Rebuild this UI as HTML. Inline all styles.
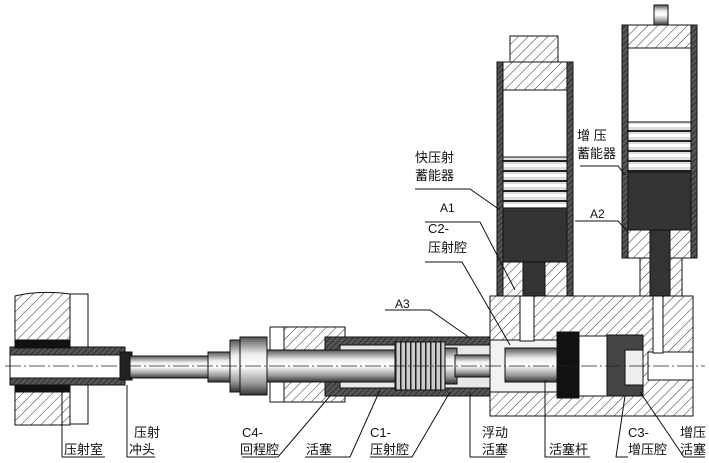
<!DOCTYPE html>
<html><head><meta charset="utf-8"><style>
html,body{margin:0;padding:0;background:#fff}
svg{display:block}
text{font-family:"Liberation Sans","Noto Sans CJK SC",sans-serif;font-size:13px;fill:#111}
</style></head><body>
<svg width="709" height="463" viewBox="0 0 709 463" xmlns="http://www.w3.org/2000/svg">
<defs>
<pattern id="h" width="7" height="7" patternUnits="userSpaceOnUse" patternTransform="rotate(45)">
<rect width="7" height="7" fill="#fff"/><line x1="0" y1="0" x2="0" y2="7" stroke="#333" stroke-width="1"/></pattern>
<pattern id="hd" width="4" height="4" patternUnits="userSpaceOnUse" patternTransform="rotate(45)">
<rect width="4" height="4" fill="#555"/><line x1="0" y1="0" x2="0" y2="4" stroke="#222" stroke-width="1.5"/></pattern>
<linearGradient id="rod" x1="0" y1="0" x2="0" y2="1">
<stop offset="0" stop-color="#555"/><stop offset="0.3" stop-color="#eee"/><stop offset="0.5" stop-color="#fff"/><stop offset="0.8" stop-color="#999"/><stop offset="1" stop-color="#333"/></linearGradient>
<pattern id="rg" width="10" height="10" patternUnits="userSpaceOnUse">
<rect width="10" height="10" fill="#ddd"/><rect y="0" width="10" height="2" fill="#222"/><rect y="4" width="10" height="3" fill="#fff"/></pattern>
<pattern id="rv" width="5" height="10" patternUnits="userSpaceOnUse">
<rect width="5" height="10" fill="#ccc"/><rect width="1.5" height="10" fill="#222"/></pattern>
</defs>
<g stroke="#111" stroke-width="1">
<path d="M15 296 Q40 290 70 294 L70 425 L15 425 Z" fill="url(#h)"/>
<rect x="70" y="294" width="18" height="130" fill="#fff"/>
<rect x="10" y="347" width="115" height="38" fill="url(#hd)"/>
<rect x="10" y="355" width="110" height="23" fill="#fff"/>
<rect x="15" y="340" width="55" height="8" fill="#111"/>
<rect x="15" y="385" width="55" height="7" fill="#111"/>
<rect x="120" y="352" width="12" height="28" fill="#222"/>
<rect x="130" y="356" width="80" height="22" fill="url(#rod)"/>
<rect x="208" y="352" width="25" height="30" fill="url(#rod)"/>
<rect x="230" y="340" width="12" height="52" fill="url(#rod)"/>
<rect x="240" y="337" width="27" height="58" fill="url(#rod)"/>
<rect x="270" y="327" width="75" height="75" fill="url(#h)"/>
<rect x="270" y="327" width="14" height="75" fill="#fff"/>
<rect x="325" y="337" width="165" height="59" fill="url(#hd)"/>
<rect x="340" y="345" width="150" height="43" fill="#e8e8e8"/>
<rect x="267" y="350" width="130" height="32" fill="url(#rod)"/>
<rect x="395" y="342" width="50" height="48" fill="url(#rv)"/>
<rect x="445" y="348" width="12" height="36" fill="url(#rod)"/>
<rect x="455" y="355" width="60" height="22" fill="url(#rod)"/>
<rect x="490" y="296" width="203" height="120" fill="url(#h)"/>
<rect x="490" y="340" width="72" height="52" fill="#f2f2f2"/>
<rect x="505" y="348" width="55" height="34" fill="url(#rod)"/>
<rect x="557" y="332" width="22" height="66" fill="#111"/>
<rect x="579" y="336" width="28" height="60" fill="#fff"/>
<rect x="607" y="335" width="36" height="61" fill="#444"/>
<rect x="625" y="350" width="18" height="35" fill="#eee"/>
<rect x="648" y="352" width="45" height="28" fill="#fff"/>
<rect x="520" y="296" width="14" height="45" fill="#fff"/>
<rect x="653" y="296" width="10" height="57" fill="#fff"/>
<rect x="510" y="36" width="48" height="26" fill="url(#h)"/>
<rect x="497" y="62" width="76" height="234" fill="url(#hd)"/>
<rect x="503" y="62" width="64" height="28" fill="url(#h)"/>
<rect x="503" y="90" width="64" height="67" fill="#fff"/>
<rect x="503" y="157" width="64" height="51" fill="url(#rg)"/>
<rect x="503" y="208" width="64" height="54" fill="#333"/>
<rect x="503" y="262" width="64" height="34" fill="url(#h)"/>
<rect x="523" y="262" width="22" height="34" fill="#333"/>
<rect x="654" y="5" width="14" height="20" fill="url(#rod)"/>
<rect x="622" y="25" width="75" height="233" fill="url(#hd)"/>
<rect x="628" y="25" width="63" height="23" fill="url(#h)"/>
<rect x="628" y="48" width="63" height="74" fill="#fff"/>
<rect x="628" y="122" width="63" height="50" fill="url(#rg)"/>
<rect x="628" y="172" width="63" height="58" fill="#333"/>
<rect x="628" y="230" width="63" height="28" fill="url(#h)"/>
<rect x="640" y="258" width="42" height="38" fill="url(#h)"/>
<rect x="650" y="230" width="20" height="66" fill="#333"/>
</g>
<line x1="5" y1="366" x2="705" y2="366" stroke="#222" stroke-width="0.8" stroke-dasharray="16 3 2 3"/>
<g stroke="#111" stroke-width="1" fill="none">
<polyline points="415,189 470,189 500,210"/>
<polyline points="580,166 618,166 625,175"/>
<polyline points="425,222 480,222 515,290"/>
<polyline points="575,221 618,221 628,232"/>
<polyline points="425,262 462,262 510,345"/>
<polyline points="385,310 430,310 470,338"/>
<polyline points="62,457 62,385 105,457 62,457" stroke="none"/>
<polyline points="105,457 62,457 62,385"/>
<polyline points="155,457 127,457 127,385"/>
<polyline points="242,457 278,457 330,396"/>
<polyline points="305,457 350,457 380,390"/>
<polyline points="370,457 412,457 450,392"/>
<polyline points="505,457 470,457 470,392"/>
<polyline points="590,457 545,457 545,380"/>
<polyline points="628,457 616,457 625,396"/>
<polyline points="705,457 684,457 640,392"/>
</g>
<text x="415" y="162">快压射</text><text x="415" y="180">蓄能器</text>
<text x="577" y="140">增 压</text><text x="577" y="158">蓄能器</text>
<text x="440" y="212" style="font-size:12px">A1</text>
<text x="428" y="233">C2-</text><text x="428" y="252">压射腔</text>
<text x="590" y="218" style="font-size:12px">A2</text>
<text x="395" y="308" style="font-size:12px">A3</text>
<text x="64" y="454">压射室</text>
<text x="134" y="437">压射</text><text x="129" y="454">冲头</text>
<text x="242" y="437">C4-</text><text x="240" y="454">回程腔</text>
<text x="306" y="454">活塞</text>
<text x="370" y="437">C1-</text><text x="370" y="454">压射腔</text>
<text x="482" y="437">浮动</text><text x="482" y="454">活塞</text>
<text x="549" y="454">活塞杆</text>
<text x="628" y="437">C3-</text><text x="628" y="454">增压腔</text>
<text x="680" y="437">增压</text><text x="680" y="454">活塞</text>
</svg>
</body></html>
